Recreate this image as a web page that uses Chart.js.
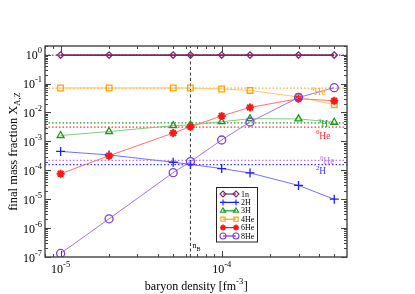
<!DOCTYPE html>
<html>
<head>
<meta charset="utf-8">
<script src="https://cdn.jsdelivr.net/npm/chart.js@4.4.0/dist/chart.umd.min.js"></script>
<style>
  html, body { margin: 0; padding: 0; background: #fff; }
  #wrap { width: 415px; height: 294px; }
</style>
</head>
<body>
<div id="wrap"><canvas id="chart" width="415" height="294"></canvas></div>
<script>
// baryon density [fm^-3] of each run
const densities = [1e-5, 2e-5, 5e-5, 6.4e-5, 1e-4, 1.5e-4, 3e-4, 5e-4];

// final mass fractions
const species = ['1n', '2H', '3H', '4He', '6He', '8He'];
const frac1n  = [0.97, 0.97, 0.97, 0.97, 0.97, 0.97, 0.97, 0.97];
const frac2H  = [4.5e-4, 3.4e-4, 1.9e-4, 1.6e-4, 1.15e-4, 8.1e-5, 3.0e-5, 1.0e-5];
const frac3H  = [1.6e-3, 2.2e-3, 3.5e-3, 3.7e-3, 4.8e-3, 6.1e-3, 6.0e-3, 4.6e-3];
const frac4He = [0.0705, 0.0705, 0.0705, 0.0705, 0.065, 0.058, 0.0344, 0.0186];
const frac6He = [7.6e-5, 3.2e-4, 1.95e-3, 3.2e-3, 7.6e-3, 0.015, 0.030, 0.0255];
const frac8He = [1.33e-7, 2.1e-6, 8.3e-5, 2.0e-4, 1.12e-3, 4.7e-3, 0.033, 0.072];

// dotted reference levels (same order as species)
const refLevels = [0.97, 1.56e-4, 0.0044, 0.07, 0.0031, 2.2e-4];
const refLabels = [null, ['2', 'H'], ['3', 'H'], ['4', 'He'], ['6', 'He'], ['8', 'He']];

const nB = 6.4e-5;
const xRange = [8e-6, 6e-4];
const yRange = [1e-7, 2];
const xTickExps = [-5, -4];
const yTickExps = [-7, -6, -5, -4, -3, -2, -1, 0];

// styling
const markerColors = ['#7b2a68', '#1c1cff', '#189a18', '#ffa200', '#ff1515', '#7b3fd8'];
const lineColors   = ['#7b2a68', '#7070ff', '#80cc80', '#ffc860', '#ff7070', '#a474e4'];
const refColors    = ['#7b2a68', '#3a3aff', '#2a9a2a', '#ffaa20', '#ff3030', '#c078e8'];
const pointStyles  = ['rectRot', 'cross', 'triangle', 'rect', 'star', 'circle'];
const pointSizes   = [3.2, 4.5, 4, 4, 4, 4];
const allFracs = [frac1n, frac2H, frac3H, frac4He, frac6He, frac8He];

const serif = '"Liberation Serif", "DejaVu Serif", serif';

const datasets = [];

// reference lines first (drawn underneath)
refLevels.forEach((lvl, i) => {
    datasets.push({
        label: 'ref ' + species[i],
        data: [{ x: xRange[0], y: lvl }, { x: xRange[1], y: lvl }],
        borderColor: refColors[i],
        borderWidth: 1.3,
        borderDash: [1.5, 2],
        pointRadius: 0,
        order: 10
    });
});

// vertical n_B marker
datasets.push({
    label: 'nB',
    data: [{ x: nB, y: yRange[0] }, { x: nB, y: yRange[1] }],
    borderColor: '#222',
    borderWidth: 0.9,
    borderDash: [3, 2.5],
    pointRadius: 0,
    order: 9
});

species.forEach((name, i) => {
    datasets.push({
        label: name,
        data: densities.map((d, k) => ({ x: d, y: allFracs[i][k] })),
        borderColor: lineColors[i],
        borderWidth: i === 0 ? 1.6 : 1,
        pointStyle: pointStyles[i],
        pointRadius: pointSizes[i],
        pointBorderColor: markerColors[i],
        pointBackgroundColor: i === 4 ? markerColors[i] : 'rgba(0,0,0,0)',
        pointBorderWidth: i === 4 ? 2 : 1.3,
        order: 6 - i
    });
});

// text with a raised (or lowered) small part after it
function drawScript(ctx, base, small, x, y, opts) {
    const mainFont = opts.size + 'px ' + serif;
    const smallFont = opts.smallSize + 'px ' + serif;
    ctx.font = mainFont;
    const wBase = ctx.measureText(base).width;
    ctx.font = smallFont;
    const wSmall = ctx.measureText(small).width;
    const tail = opts.tail || '';
    ctx.font = mainFont;
    const wTail = ctx.measureText(tail).width;
    const total = wBase + wSmall + wTail;
    let x0 = x;
    if (opts.align === 'center') x0 = x - total / 2;
    if (opts.align === 'right') x0 = x - total;
    ctx.textAlign = 'left';
    ctx.textBaseline = 'alphabetic';
    ctx.font = mainFont;
    ctx.fillText(base, x0, y);
    ctx.font = smallFont;
    ctx.fillText(small, x0 + wBase, y + opts.shift);
    if (tail) {
        ctx.font = mainFont;
        ctx.fillText(tail, x0 + wBase + wSmall + 0.5, y);
    }
    return total;
}

// superscript before the symbol, e.g. 4He
function drawSupFirst(ctx, sup, base, x, y, size, color) {
    ctx.fillStyle = color;
    ctx.textAlign = 'left';
    ctx.textBaseline = 'alphabetic';
    ctx.font = (size * 0.7) + 'px ' + serif;
    const w = ctx.measureText(sup).width;
    ctx.fillText(sup, x, y - size * 0.45);
    ctx.font = size + 'px ' + serif;
    ctx.fillText(base, x + w, y);
}

const decorations = {
    id: 'decorations',
    afterDraw(chart) {
        const ctx = chart.ctx;
        const area = chart.chartArea;
        const xs = chart.scales.x;
        const ys = chart.scales.y;
        ctx.save();

        // frame
        ctx.strokeStyle = '#444';
        ctx.lineWidth = 1.4;
        ctx.strokeRect(area.left, area.top, area.right - area.left, area.bottom - area.top);

        // inward ticks on all four sides
        ctx.lineWidth = 1;
        ctx.beginPath();
        for (let e = -6; e <= -3; e++) {
            for (let m = 1; m <= 9; m++) {
                const v = m * Math.pow(10, e);
                if (v < xRange[0] || v > xRange[1]) continue;
                const px = Math.round(xs.getPixelForValue(v)) + 0.5;
                const len = m === 1 ? 6 : 3;
                ctx.moveTo(px, area.bottom); ctx.lineTo(px, area.bottom - len);
                ctx.moveTo(px, area.top); ctx.lineTo(px, area.top + len);
            }
        }
        for (let e = -7; e <= 0; e++) {
            for (let m = 1; m <= 9; m++) {
                const v = m * Math.pow(10, e);
                if (v < yRange[0] || v > yRange[1]) continue;
                const py = Math.round(ys.getPixelForValue(v)) + 0.5;
                const len = m === 1 ? 6 : 3;
                ctx.moveTo(area.left, py); ctx.lineTo(area.left + len, py);
                ctx.moveTo(area.right, py); ctx.lineTo(area.right - len, py);
            }
        }
        ctx.stroke();

        // tick labels
        ctx.fillStyle = '#000';
        xTickExps.forEach(e => {
            const px = xs.getPixelForValue(Math.pow(10, e));
            drawScript(ctx, '10', String(e), px, area.bottom + 16,
                { size: 12, smallSize: 8.5, shift: -6, align: 'center' });
        });
        yTickExps.forEach(e => {
            const py = ys.getPixelForValue(Math.pow(10, e));
            drawScript(ctx, '10', String(e), area.left - 3, py + 4.5,
                { size: 12, smallSize: 8.5, shift: -6, align: 'right' });
        });

        // axis titles
        drawScript(ctx, 'baryon density [fm', '-3', (area.left + area.right) / 2, area.bottom + 33,
            { size: 12, smallSize: 8.5, shift: -6, align: 'center', tail: ']' });

        ctx.save();
        ctx.translate(17, (area.top + area.bottom) / 2);
        ctx.rotate(-Math.PI / 2);
        drawScript(ctx, 'final mass fraction X', 'A,Z', 0, 0,
            { size: 12.5, smallSize: 8.5, shift: 3, align: 'center' });
        ctx.restore();

        // n_B label
        const nx = xs.getPixelForValue(nB);
        drawScript(ctx, 'n', 'B', nx + 2, area.bottom - 9,
            { size: 8, smallSize: 6, shift: 3, align: 'left' });

        // reference labels near the right edge
        const refOffsets = [0, 6, 0.5, 3.5, 8, 0.5];
        const refX = [0, 316, 318, 311, 316, 320];
        refLevels.forEach((lvl, i) => {
            if (!refLabels[i]) return;
            const py = ys.getPixelForValue(lvl) + refOffsets[i] + 3.5;
            drawSupFirst(ctx, refLabels[i][0], refLabels[i][1], refX[i], py, 9.5, refColors[i]);
        });

        // legend
        const lx = 216.5, ly = 187.5, lw = 41, lh = 54.5;
        ctx.fillStyle = '#fff';
        ctx.fillRect(lx, ly, lw, lh);
        ctx.strokeStyle = '#222';
        ctx.lineWidth = 1;
        ctx.strokeRect(lx, ly, lw, lh);
        species.forEach((name, i) => {
            const cy = ly + 6.5 + i * 8.4;
            const x1 = lx + 6.5, x2 = lx + 19.5;
            ctx.strokeStyle = markerColors[i];
            ctx.lineWidth = 1.2;
            ctx.beginPath();
            ctx.moveTo(x1, cy); ctx.lineTo(x2, cy);
            ctx.stroke();
            [x1, x2].forEach(px => {
                ctx.strokeStyle = markerColors[i];
                ctx.fillStyle = i === 4 ? markerColors[i] : 'rgba(0,0,0,0)';
                ctx.lineWidth = i === 4 ? 1.6 : 1.1;
                Chart.helpers.drawPoint(ctx, {
                    pointStyle: pointStyles[i],
                    radius: 3,
                    borderWidth: i === 4 ? 1.6 : 1.1,
                    rotation: 0
                }, px, cy);
            });
            ctx.fillStyle = '#000';
            ctx.font = '8px ' + serif;
            ctx.textAlign = 'left';
            ctx.textBaseline = 'middle';
            ctx.fillText(name, lx + 24.5, cy + 0.5);
        });
        ctx.restore();
    }
};

new Chart(document.getElementById('chart'), {
    type: 'line',
    data: { datasets: datasets },
    options: {
        responsive: false,
        animation: false,
        layout: { padding: { left: 45, right: 68, top: 46, bottom: 37 } },
        plugins: {
            legend: { display: false },
            tooltip: { enabled: false }
        },
        elements: { line: { tension: 0 } },
        scales: {
            x: {
                type: 'logarithmic',
                min: xRange[0],
                max: xRange[1],
                grid: { display: false },
                border: { display: false },
                ticks: { display: false },
                afterFit(scale) { scale.height = 0; }
            },
            y: {
                type: 'logarithmic',
                min: yRange[0],
                max: yRange[1],
                grid: { display: false },
                border: { display: false },
                ticks: { display: false },
                afterFit(scale) { scale.width = 0; }
            }
        }
    },
    plugins: [decorations]
});
</script>
</body>
</html>
